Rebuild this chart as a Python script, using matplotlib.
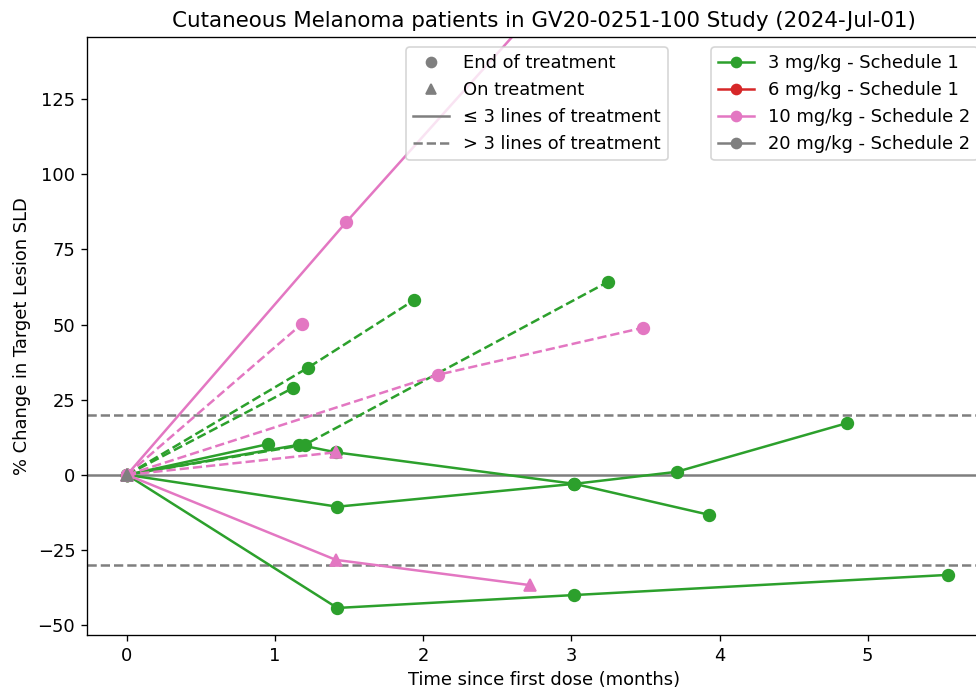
import matplotlib
matplotlib.use("Agg")
import matplotlib.pyplot as plt
from matplotlib.lines import Line2D

# one list per patient: months since first dose and % change in target lesion SLD
times = [
    [0, 0.95],
    [0, 1.16, 1.41, 3.02, 3.93],
    [0, 1.42, 3.02, 3.71, 4.86],
    [0, 1.42, 3.02, 5.54],
    [0, 1.12],
    [0, 1.22, 1.94],
    [0, 1.20, 3.25],
    [0, 1.48, 2.95],
    [0, 1.18],
    [0, 2.10, 3.48],
    [0, 1.41],
    [0, 1.41, 2.72],
    [0],
]
changes = [
    [0, 10.2],
    [0, 10.0, 7.5, -3.0, -13.3],
    [0, -10.6, -3.0, 1.0, 17.2],
    [0, -44.3, -40.0, -33.3],
    [0, 28.9],
    [0, 35.6, 58.2],
    [0, 10.0, 64.3],
    [0, 84.1, 165.0],
    [0, 50.2],
    [0, 33.3, 48.9],
    [0, 7.5],
    [0, -28.3, -36.7],
    [0],
]
doses = ["3 mg/kg - Schedule 1"] * 7 + ["10 mg/kg - Schedule 2"] * 5 + ["20 mg/kg - Schedule 2"]
on_treatment = [False] * 10 + [True, True, True]
more_than_3_lines = [False, False, False, False, True, True, True, False, True, True, True, False, False]

dose_labels = ["3 mg/kg - Schedule 1", "6 mg/kg - Schedule 1", "10 mg/kg - Schedule 2", "20 mg/kg - Schedule 2"]
dose_colors = {
    "3 mg/kg - Schedule 1": "tab:green",
    "6 mg/kg - Schedule 1": "tab:red",
    "10 mg/kg - Schedule 2": "tab:pink",
    "20 mg/kg - Schedule 2": "tab:gray",
}

plt.rcParams["font.size"] = 10.7

fig = plt.figure(figsize=(976 / 120, 690 / 120), dpi=120)
# axes runs a bit past the right edge, like the cropped original
ax = fig.add_axes([87 / 976, 55 / 690, 914 / 976, 598 / 690])

ax.axhline(0, color="tab:gray", lw=1.5, zorder=1)
ax.axhline(20, color="tab:gray", lw=1.5, ls="--", zorder=1)
ax.axhline(-30, color="tab:gray", lw=1.5, ls="--", zorder=1)

for t, y, d, on, heavy in zip(times, changes, doses, on_treatment, more_than_3_lines):
    ax.plot(t, y, color=dose_colors[d], marker="^" if on else "o",
            ls="--" if heavy else "-", markersize=7, zorder=2)

ax.set_xlim(-0.27, 5.9)
ax.set_ylim(-53.3, 145.7)
ax.set_title("Cutaneous Melanoma patients in GV20-0251-100 Study (2024-Jul-01)")
ax.set_xlabel("Time since first dose (months)")
ax.set_ylabel("% Change in Target Lesion SLD")

status_handles = [
    Line2D([], [], color="tab:gray", marker="o", ls="none", label="End of treatment"),
    Line2D([], [], color="tab:gray", marker="^", ls="none", label="On treatment"),
    Line2D([], [], color="tab:gray", ls="-", label="≤ 3 lines of treatment"),
    Line2D([], [], color="tab:gray", ls="--", label="> 3 lines of treatment"),
]
leg1 = ax.legend(handles=status_handles, loc="upper left", bbox_to_anchor=(0.349, 0.983), borderaxespad=0)
ax.add_artist(leg1)

dose_handles = [Line2D([], [], color=dose_colors[d], marker="o", label=d) for d in dose_labels]
ax.legend(handles=dose_handles, loc="upper left", bbox_to_anchor=(0.683, 0.983), borderaxespad=0)

fig.savefig("out.png", dpi=120)
